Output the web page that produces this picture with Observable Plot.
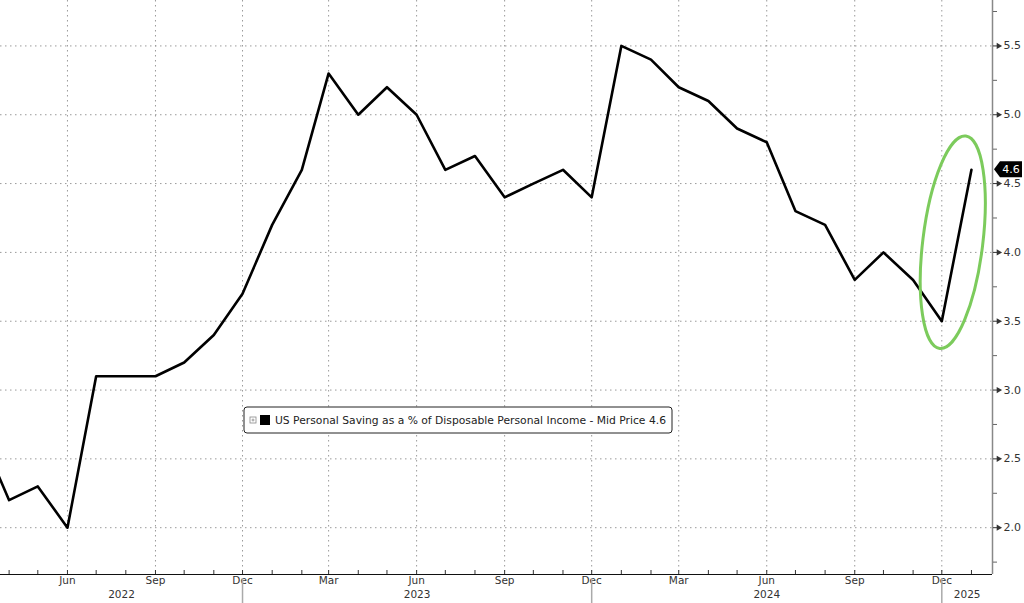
<!DOCTYPE html>
<html><head><meta charset="utf-8">
<script src="https://cdn.jsdelivr.net/npm/d3@7"></script>
<script src="https://cdn.jsdelivr.net/npm/@observablehq/plot@0.6"></script>
<style>
html,body{margin:0;padding:0;background:#fff;overflow:hidden;}
#chart svg{display:block;}
</style></head><body><div id="chart"></div>
<script>
// ---- data ----
const months = ["2022-03","2022-04","2022-05","2022-06","2022-07","2022-08","2022-09","2022-10","2022-11","2022-12",
  "2023-01","2023-02","2023-03","2023-04","2023-05","2023-06","2023-07","2023-08","2023-09","2023-10","2023-11","2023-12",
  "2024-01","2024-02","2024-03","2024-04","2024-05","2024-06","2024-07","2024-08","2024-09","2024-10","2024-11","2024-12",
  "2025-01"];
const savingRate = [2.7,2.2,2.3,2.0,3.1,3.1,3.1,3.2,3.4,3.7,
  4.2,4.6,5.3,5.0,5.2,5.0,4.6,4.7,4.4,4.5,4.6,4.4,
  5.5,5.4,5.2,5.1,4.9,4.8,4.3,4.2,3.8,4.0,3.8,3.5,
  4.6];
const seriesName = "US Personal Saving as a % of Disposable Personal Income - Mid Price";
const lastValueLabel = "4.6";
const xDomain = ["2022-03-23","2025-01-23"];
const yDomain = [1.66, 5.83];
const yMajorTicks = [2.0,2.5,3.0,3.5,4.0,4.5,5.0,5.5];
const yMinorTicks = [1.75,2.25,2.75,3.25,3.75,4.25,4.75,5.25,5.75];
const quarterTicks = ["2022-06","2022-09","2022-12","2023-03","2023-06","2023-09","2023-12","2024-03","2024-06","2024-09","2024-12"];
const quarterLabels = ["Jun","Sep","Dec","Mar","Jun","Sep","Dec","Mar","Jun","Sep","Dec"];
const monthTicks = ["2022-04","2022-05","2022-06","2022-07","2022-08","2022-09","2022-10","2022-11","2022-12",
  "2023-01","2023-02","2023-03","2023-04","2023-05","2023-06","2023-07","2023-08","2023-09","2023-10","2023-11","2023-12",
  "2024-01","2024-02","2024-03","2024-04","2024-05","2024-06","2024-07","2024-08","2024-09","2024-10","2024-11","2024-12","2025-01"];
const yearSeparators = ["2022-12","2023-12","2024-12"];
const yearLabels = ["2022","2023","2024","2025"];
const highlight = {date: "2024-12-13", value: 4.07};

// ---- build ----
const parse = s => new Date(s.length === 7 ? s + "-01T00:00:00Z" : s + "T00:00:00Z");
const data = months.map((m, i) => ({date: parse(m), value: savingRate[i]}));
const xd = xDomain.map(parse);
const bounds = [xd[0], ...yearSeparators.map(parse), xd[1]];
const yearData = yearLabels.map((t, i) => ({t, date: new Date((+bounds[i] + +bounds[i+1]) / 2)}));
const FONT = "DejaVu Sans, sans-serif";
const grid = {stroke: "#9a9a9a", strokeWidth: 1, strokeDasharray: "1.5,3.5", strokeOpacity: 1};

const legendMark = (index, scales, values, dim) => {
  const g = d3.create("svg:g").attr("font-family", FONT).attr("text-anchor", "start");
  const x0 = 244, y0 = 407, h = 26;
  g.append("rect").attr("x", x0).attr("y", y0).attr("width", 428).attr("height", h).attr("rx", 3)
    .attr("fill", "white").attr("stroke", "#222").attr("stroke-width", 1);
  g.append("rect").attr("x", x0 + 6).attr("y", y0 + 10).attr("width", 6).attr("height", 6)
    .attr("fill", "white").attr("stroke", "#888").attr("stroke-width", 0.8);
  g.append("line").attr("x1", x0 + 7.5).attr("x2", x0 + 10.5).attr("y1", y0 + 13).attr("y2", y0 + 13).attr("stroke", "#888").attr("stroke-width", 0.8);
  g.append("line").attr("x1", x0 + 9).attr("x2", x0 + 9).attr("y1", y0 + 11.5).attr("y2", y0 + 14.5).attr("stroke", "#888").attr("stroke-width", 0.8);
  g.append("rect").attr("x", x0 + 16).attr("y", y0 + 8).attr("width", 10).attr("height", 10).attr("fill", "black");
  g.append("text").attr("x", x0 + 31).attr("y", y0 + 17).attr("font-size", 10.75).attr("fill", "#222")
    .text(`${seriesName} ${lastValueLabel}`);
  return g.node();
};

const ellipseMark = (index, scales) => {
  const cx = scales.x(parse(highlight.date)), cy = scales.y(highlight.value);
  const g = d3.create("svg:g");
  g.append("ellipse").attr("cx", cx).attr("cy", cy).attr("rx", 30).attr("ry", 107)
    .attr("transform", `rotate(7 ${cx} ${cy})`)
    .attr("fill", "none").attr("stroke", "#7ccb5c").attr("stroke-width", 3);
  return g.node();
};

const tagMark = (index, scales, values, dim) => {
  const last = data[data.length - 1];
  const y = scales.y(last.value);
  const x = dim.width - dim.marginRight + 2;
  const g = d3.create("svg:g");
  g.append("path").attr("d", `M${x},${y} L${x + 6},${y - 8} L${x + 28},${y - 8} L${x + 28},${y + 8} L${x + 6},${y + 8} Z`)
    .attr("fill", "black");
  g.append("text").attr("x", x + 17).attr("y", y + 4).attr("text-anchor", "middle").attr("fill", "white")
    .attr("font-family", FONT).attr("font-size", 11).text(lastValueLabel);
  return g.node();
};

const chart = Plot.plot({
  width: 1024, height: 603,
  marginLeft: 0, marginRight: 32, marginTop: 0, marginBottom: 29,
  style: {fontFamily: FONT, background: "white", overflow: "hidden"},
  x: {type: "utc", domain: xd, axis: null},
  y: {domain: yDomain, axis: null},
  marks: [
    Plot.ruleY(yMajorTicks, grid),
    Plot.ruleX(quarterTicks.map(parse), grid),
    legendMark,
    Plot.line(data, {x: "date", y: "value", stroke: "black", strokeWidth: 2.6, clip: true}),
    ellipseMark,
    // bottom axis
    Plot.ruleY([yDomain[0]], {stroke: "#111", strokeWidth: 1.2}),
    Plot.tickX(monthTicks.map(parse), {stroke: "#333", insetTop: 570}),
    Plot.text(quarterTicks.map(parse), {x: d => d, text: (d, i) => quarterLabels[i], frameAnchor: "bottom", dy: 9, fontSize: 10.5, fill: "#333"}),
    Plot.text(yearData, {x: "date", text: "t", frameAnchor: "bottom", dy: 23, fontSize: 10.5, fill: "#333"}),
    Plot.ruleX(yearSeparators.map(parse), {stroke: "#aaa", strokeWidth: 1.5, insetTop: 578, insetBottom: -29}),
    // right axis
    Plot.ruleX([xd[1]], {stroke: "#888", strokeWidth: 1.5}),
    Plot.axisY(yMinorTicks, {anchor: "right", label: null, tickSize: 4, tickFormat: () => "", stroke: "#666"}),
    Plot.axisY(yMajorTicks, {anchor: "right", label: null, tickSize: 5, tickPadding: 6, tickFormat: d3.format(".1f"), fontSize: 11, color: "#333", stroke: "#333"}),
    Plot.dot(yMajorTicks, {y: d => d, frameAnchor: "right", dx: 6, symbol: "triangle", r: 2.3, rotate: 90, fill: "#333", stroke: null}),
    tagMark
  ]
});
document.getElementById("chart").appendChild(chart);
</script></body></html>
